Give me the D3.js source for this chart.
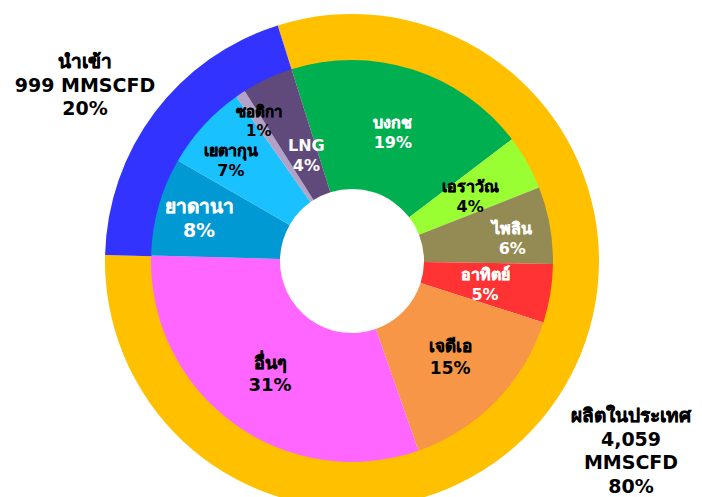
<!DOCTYPE html>
<html>
<head>
<meta charset="utf-8">
<script src="https://cdn.jsdelivr.net/npm/d3@7"></script>
<style>
  body { margin: 0; background: #fff; }
  text { font-family: Tahoma, "DejaVu Sans", "Noto Sans", sans-serif; font-weight: bold; }
  .thai { stroke-width: 0.45px; paint-order: stroke; }
</style>
</head>
<body>
<div id="chart"></div>
<script>
// outer ring: domestic vs imported gas (MMSCFD)
var sourceNames = ["ผลิตในประเทศ", "นำเข้า"];
var sourceValues = [4059, 999];
var sourcePct = ["80%", "20%"];

// inner pie: share by field (%)
var fieldNames = ["บงกช", "เอราวัณ", "ไพลิน", "อาทิตย์", "เจดีเอ", "อื่นๆ",
                  "ยาดานา", "เยตากุน", "ซอติกา", "LNG"];
var fieldValues = [19.5, 4.4, 6.2, 4.7, 14.7, 30.8, 7.9, 6.9, 0.8, 4.1];
var fieldPct = ["19%", "4%", "6%", "5%", "15%", "31%", "8%", "7%", "1%", "4%"];

var W = 702, H = 497;
var cx = 352, cy = 261;
var rHole = 72, rPie = 201, rRing = 247;
var start = -17.5 * Math.PI / 180;

var fieldColors = ["#00B050", "#99FF33", "#948A54", "#FF3333", "#F79646", "#FF66FF",
                   "#0099D4", "#1AC1FF", "#B3A2C7", "#604A7B"];
var fieldText = ["#fff", "#000", "#fff", "#fff", "#000", "#000", "#fff", "#000", "#000", "#fff"];
// label distance from centre, angle nudge (deg) and font size, per slice
var labelR = [135, 135, 162, 135, 137, 139, 159, 158, 168, 115];
var labelDa = [0, 0.5, 2, 0.5, 0, 0, 0, -2.5, 0, 1.5];
var labelSize = [16, 16, 16, 16, 17, 18, 19, 16, 15, 16];

var color = d3.scaleOrdinal().domain(fieldNames).range(fieldColors);
var ringColor = d3.scaleOrdinal().domain(sourceNames).range(["#FFC000", "#3333FF"]);

var svg = d3.select("#chart").append("svg")
  .attr("width", W).attr("height", H);

var g = svg.append("g").attr("transform", "translate(" + cx + "," + cy + ")");

var pie = d3.pie().sort(null).startAngle(start).endAngle(start + 2 * Math.PI);

var ringArcs = pie(sourceValues);
var ringArc = d3.arc().innerRadius(rPie - 1).outerRadius(rRing);
g.selectAll("path.ring").data(ringArcs).enter().append("path")
  .attr("class", "ring")
  .attr("d", ringArc)
  .attr("fill", (d, i) => ringColor(sourceNames[i]));

var fieldArcs = pie(fieldValues);
var fieldArc = d3.arc().innerRadius(rHole).outerRadius(rPie);
g.selectAll("path.field").data(fieldArcs).enter().append("path")
  .attr("class", "field")
  .attr("d", fieldArc)
  .attr("fill", (d, i) => color(fieldNames[i]));

// slice labels
fieldArcs.forEach(function(d, i) {
  var a = (d.startAngle + d.endAngle) / 2 + labelDa[i] * Math.PI / 180;
  var x = Math.sin(a) * labelR[i];
  var y = -Math.cos(a) * labelR[i];
  var fs = labelSize[i];
  var t = g.append("text")
    .attr("text-anchor", "middle")
    .attr("fill", fieldText[i])
    .style("font-size", fs + "px");
  var name = t.append("tspan").attr("x", x).attr("y", y - fs * 0.25).text(fieldNames[i]);
  // thai glyphs fall back to a lighter face, thicken them a little
  if (!/[a-z]/i.test(fieldNames[i])) name.attr("class", "thai").attr("stroke", fieldText[i]);
  t.append("tspan").attr("x", x).attr("y", y + fs * 1.0).text(fieldPct[i]);
});

// outer ring labels
function block(x, y, lines) {
  var t = svg.append("text").attr("text-anchor", "middle")
    .attr("fill", "#000").style("font-size", "19px");
  lines.forEach(function(l, k) {
    var s = t.append("tspan").attr("x", x).attr("y", y + k * 23.5).text(l);
    if (k == 0) s.attr("class", "thai").attr("stroke", "#000");
  });
}
block(85, 68, [sourceNames[1], d3.format(",")(sourceValues[1]) + " MMSCFD", sourcePct[1]]);
block(631, 422, [sourceNames[0], d3.format(",")(sourceValues[0]), "MMSCFD", sourcePct[0]]);
</script>
</body>
</html>
